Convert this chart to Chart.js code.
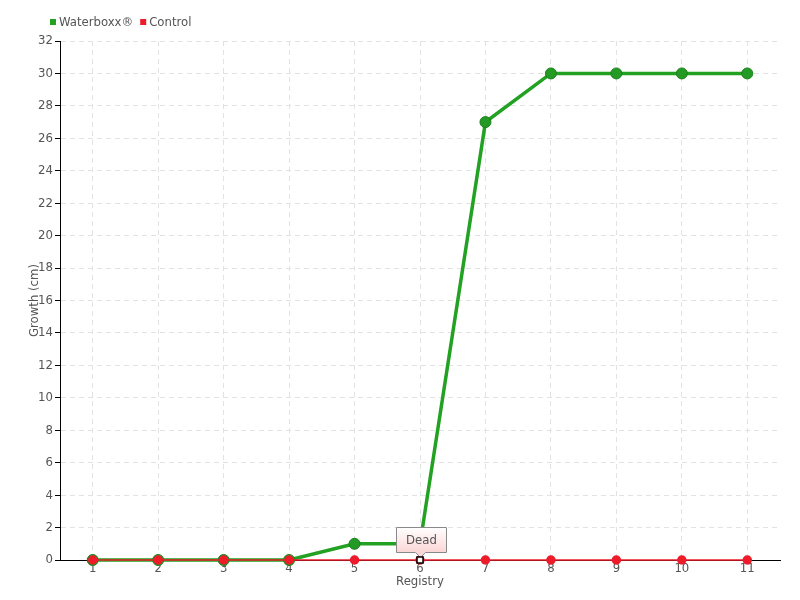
<!DOCTYPE html>
<html>
<head>
<meta charset="utf-8">
<script src="https://cdn.jsdelivr.net/npm/chart.js@4"></script>
<style>
  html, body { margin:0; padding:0; background:#fff; }
  #wrap { width:800px; height:600px; }
</style>
</head>
<body>
<div id="wrap"><canvas id="chart"></canvas></div>
<script>
// datos
const REGISTROS  = ['1','2','3','4','5','6','7','8','9','10','11'];
const WATERBOXX  = [0, 0, 0, 0, 1, 1, 27, 30, 30, 30, 30];
const CONTROL    = [0, 0, 0, 0, 0, 0, 0, 0, 0, 0, 0];
const NOTA_IDX   = 5;       // punto marcado en Control
const NOTA_TEXTO = 'Dead';

const green = '#22a122';
const red   = '#ee1c2a';
const FONT  = '"DejaVu Sans Condensed", "DejaVu Sans", sans-serif';
const gray  = '#555';

// ── Leyenda y nota ────────────────────────────────────────────────────────────
const extras = { id:'extras', afterDraw(chart) {
    const {ctx} = chart;
    ctx.save();
    ctx.font = '13px ' + FONT;
    ctx.textBaseline = 'middle';
    let x = 50;
    [['Waterboxx®', green], ['Control', red]].forEach(([txt, col]) => {
        ctx.fillStyle = col;
        ctx.fillRect(x, 19, 6, 6);
        ctx.fillStyle = gray;
        ctx.fillText(txt, x + 9, 23);
        x += 9 + ctx.measureText(txt).width + 7;
    });

    // nota sobre el punto
    const pt = chart.getDatasetMeta(1).data[NOTA_IDX];
    const px = Math.round(pt.x), py = Math.round(pt.y);
    const w = 50, h = 25, bx = px - 24, by = py - 33;
    const g = ctx.createLinearGradient(0, by, 0, by + h);
    g.addColorStop(0, '#ffffff');
    g.addColorStop(1, '#fbd6d6');
    ctx.beginPath();
    ctx.moveTo(bx + 0.5, by + 0.5);
    ctx.lineTo(bx + w + 0.5, by + 0.5);
    ctx.lineTo(bx + w + 0.5, by + h + 0.5);
    ctx.lineTo(px + 5.5, by + h + 0.5);
    ctx.lineTo(px + 0.5, by + h + 5.5);
    ctx.lineTo(px - 4.5, by + h + 0.5);
    ctx.lineTo(bx + 0.5, by + h + 0.5);
    ctx.closePath();
    ctx.fillStyle = g;
    ctx.fill();
    ctx.strokeStyle = '#8a8a8a';
    ctx.lineWidth = 1;
    ctx.stroke();
    ctx.fillStyle = gray;
    ctx.textAlign = 'center';
    ctx.fillText(NOTA_TEXTO, bx + w/2 + 0.5, by + h/2 + 1);

    // marcador del punto activo
    ctx.fillStyle = '#fff';
    ctx.fillRect(px - 3, py - 3, 6, 6);
    ctx.strokeStyle = '#000';
    ctx.lineWidth = 1.5;
    ctx.strokeRect(px - 3, py - 3, 6, 6);
    ctx.restore();
}};

new Chart(document.getElementById('chart'), {
    type: 'line',
    data: {
        labels: REGISTROS,
        datasets: [
            { label:'Waterboxx®', data:WATERBOXX, borderColor:green, borderWidth:3.5,
              pointBackgroundColor:'#239a23', pointBorderColor:'#1b7f1b', pointBorderWidth:1,
              pointRadius:5.5, tension:0, order:1, clip:false },
            { label:'Control', data:CONTROL, borderColor:red, borderWidth:1.5,
              pointBackgroundColor:red, pointBorderColor:red, pointRadius:4, tension:0, order:0, clip:false }
        ]
    },
    options: {
        responsive:true, maintainAspectRatio:false, animation:false,
        layout:{ padding:{ top:41, right:20, bottom:11, left:0 } },
        plugins:{ legend:{display:false}, tooltip:{enabled:false} },
        scales:{
            x:{
                offset:true,
                afterFit: s => { s.height = 29; },
                grid:{ color:'#e2e2e2', drawTicks:false, offset:false },
                border:{ color:'#000', width:1, dash:[5,4] },
                ticks:{ font:{size:13, family:FONT}, color:gray, padding:1, maxRotation:0 },
                title:{ display:true, text:'Registry', font:{size:13, family:FONT}, color:gray, padding:{top:0, bottom:0} }
            },
            y:{
                min:0, max:32,
                afterFit: s => { s.width = 60; },
                grid:{ color:'#e2e2e2', tickLength:5, tickColor:'#000', tickBorderDash:[] },
                border:{ color:'#000', width:1, dash:[5,4] },
                ticks:{ stepSize:2, font:{size:13, family:FONT}, color:gray, padding:2 },
                title:{ display:true, text:'Growth (cm)', font:{size:13, family:FONT}, color:gray, padding:{top:27, bottom:0} }
            }
        }
    },
    plugins:[extras]
});
</script>
</body>
</html>
